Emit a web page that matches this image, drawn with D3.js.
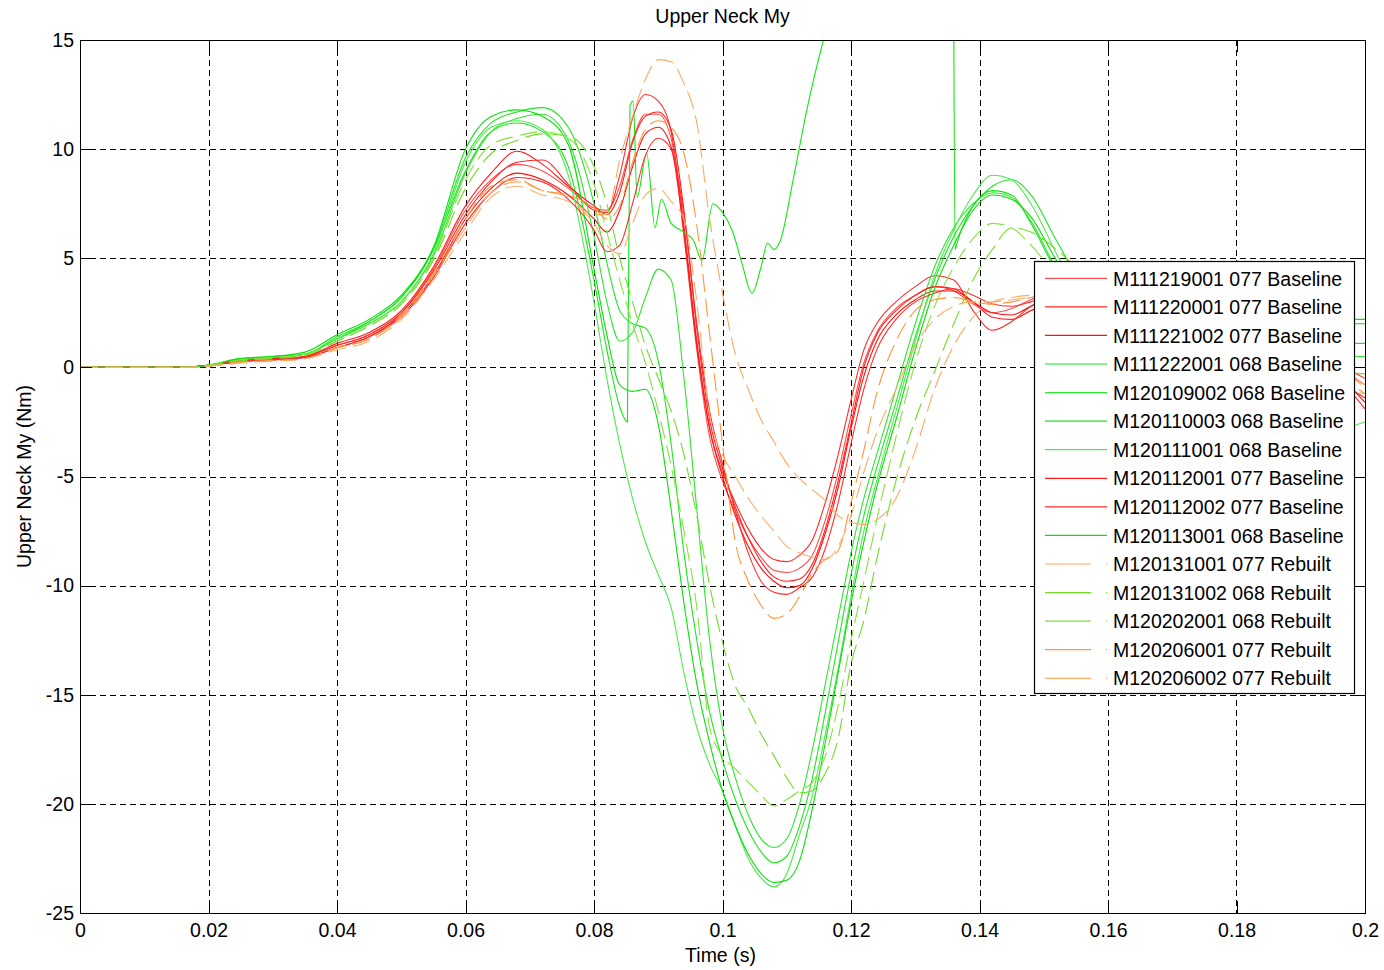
<!DOCTYPE html>
<html><head><meta charset="utf-8">
<script src="https://cdn.jsdelivr.net/npm/d3@7"></script>
<style>
body{margin:0;background:#fff;}
svg{display:block;}
text{font-family:"Liberation Sans",Arial,Helvetica,sans-serif;fill:#000;}
</style>
</head><body>
<svg id="c" width="1384" height="970"></svg>
<script>
// ---------- data ----------
const xTicks = [0, 0.02, 0.04, 0.06, 0.08, 0.1, 0.12, 0.14, 0.16, 0.18, 0.2];
const yTicks = [-25, -20, -15, -10, -5, 0, 5, 10, 15];

const names = [
  "M111219001 077 Baseline", "M111220001 077 Baseline", "M111221002 077 Baseline",
  "M111222001 068 Baseline", "M120109002 068 Baseline", "M120110003 068 Baseline",
  "M120111001 068 Baseline", "M120112001 077 Baseline", "M120112002 077 Baseline",
  "M120113001 068 Baseline", "M120131001 077 Rebuilt", "M120131002 068 Rebuilt",
  "M120202001 068 Rebuilt", "M120206001 077 Rebuilt", "M120206002 077 Rebuilt"
];

// shared time base (s)
const T = [0,0.01,0.016,0.02,0.025,0.03,0.035,0.04,0.045,0.05,0.055,
  0.06,0.064,0.068,0.072,0.076,
  0.08,0.082,0.084,0.086,0.088,0.09,0.092,0.094,
  0.096,0.098,0.1,0.102,0.104,0.106,0.108,0.11,
  0.112,0.114,0.116,0.118,0.12,0.122,0.124,0.127,
  0.13,0.133,0.136,0.139,0.142,0.145,0.148,0.152,
  0.156,0.16,0.165,0.17,0.175,0.18,0.185,0.19,
  0.195,0.2];

// own time base for M111222001 (sharp jumps)
const T_M111222001 = [0,0.01,0.016,0.02,0.025,0.03,0.035,0.04,0.045,0.05,0.055,0.06,0.064,0.068,0.072,0.076,0.08,0.082,0.084,
  0.0852,0.0856,0.0861,0.0867,0.0882,0.0895,0.0905,0.092,0.094,0.0955,0.0968,0.0985,0.1,0.1016,0.103,0.1046,0.106,0.107,0.108,0.109,0.111,0.1132,0.1157,
  0.12,0.125,0.13,0.1358,0.1362,0.1366,0.139,0.142,0.145,0.148,0.152,0.156,0.16,0.165,0.17,0.175,0.18,0.185,0.19,0.195,0.2];

const M111219001 = [0,0,0,0.1,0.3,0.35,0.5,1.0,1.5,2.5,4.5,
  7.2,8.6,9.3,9.0,8.2,
  7.3,7.2,8.3,10.4,11.6,11.6,10.5,6.0,
  0.8,-3.2,-5.2,-6.6,-7.8,-8.7,-9.3,-9.4,
  -9.2,-8.6,-7.0,-4.8,-2.2,0.2,1.6,2.7,
  3.3,3.7,3.5,2.9,2.5,2.7,3.1,3.5,
  3.6,3.4,2.9,2.3,1.8,1.4,1.0,0.6,
  0.1,-0.8];
const M111220001 = [0,0,0,0.1,0.3,0.35,0.5,1.0,1.5,2.5,4.4,
  7.0,8.5,9.4,9.5,8.4,
  7.2,7.1,8.8,11.4,12.5,12.2,10.8,6.5,
  1.2,-2.8,-4.8,-6.2,-7.4,-8.3,-8.8,-8.9,
  -8.6,-7.9,-6.2,-4.0,-1.5,0.8,2.0,3.0,
  3.7,4.2,4.0,2.6,1.7,2.1,2.8,3.3,
  3.4,3.2,2.9,2.4,1.9,1.5,1.1,0.7,
  0.2,-0.5];
const M111221002 = [0,0,0,0.1,0.25,0.35,0.45,0.9,1.4,2.4,4.2,
  6.8,8.2,8.9,8.6,7.9,
  6.8,6.2,7.2,9.2,10.7,11.0,10.1,6.2,
  1.0,-2.8,-5.0,-6.8,-8.2,-9.2,-9.8,-10.1,
  -10.0,-9.2,-7.6,-5.5,-2.8,-0.4,1.2,2.4,
  3.1,3.5,3.5,3.0,2.5,2.4,2.8,3.2,
  3.4,3.2,2.8,2.3,1.8,1.3,0.9,0.5,
  -0.2,-1.6];
const M111222001 = [0,0,0,0.1,0.4,0.45,0.6,1.3,2.1,3.2,5.4,9.0,10.8,11.2,10.8,9.2,4.0,0.8,-1.8,
  -2.5,12.0,12.2,7.8,9.8,6.4,7.7,6.6,6.2,5.8,4.9,7.5,7.1,6.2,4.8,3.4,4.6,5.7,5.4,5.8,8.6,11.9,15.0,
  19,23,25,26,5.4,5.8,7.4,8.1,7.9,6.6,4.4,3.0,2.4,2.2,2.2,2.2,2.2,2.2,2.2,2.2,2.2];
const M120109002 = [0,0,0,0.1,0.35,0.45,0.6,1.3,2.0,3.0,5.1,
  8.9,10.8,11.4,11.6,10.4,
  6.0,3.0,1.2,1.6,3.2,4.5,4.0,-0.5,
  -6.5,-12.5,-16.5,-18.8,-20.5,-21.6,-22.0,-21.6,
  -20.0,-17.5,-14.5,-11.5,-8.5,-6.0,-4.0,-1.0,
  2.0,4.6,6.4,7.5,8.0,7.8,6.7,4.5,
  2.8,1.8,1.2,0.9,0.7,0.6,0.5,0.5,
  0.5,0.5];
const M120110003 = [0,0,0,0.1,0.4,0.5,0.6,1.4,2.1,3.2,5.4,
  9.6,11.2,11.7,11.9,11.0,
  7.5,4.8,2.6,2.0,1.8,0.3,-3.5,-8.5,
  -12.5,-15.8,-18.0,-19.8,-21.2,-22.2,-22.7,-22.4,
  -21.0,-18.8,-15.8,-12.6,-9.5,-6.8,-4.6,-1.6,
  1.4,4.0,6.0,7.4,8.3,8.6,7.9,5.8,
  3.8,2.6,2.0,1.6,1.3,1.1,1.1,1.1,
  1.1,1.1];
const M120111001 = [0,0,0,0.1,0.35,0.45,0.6,1.3,2.0,3.0,5.2,
  9.4,11.0,11.3,10.9,8.8,
  3.0,-0.5,-3.5,-6.0,-8.0,-9.5,-11.0,-14.0,
  -16.5,-18.2,-19.4,-21.0,-22.5,-23.4,-23.8,-23.2,
  -21.4,-19.6,-16.8,-13.8,-10.5,-7.5,-5.2,-2.0,
  1.2,4.2,6.3,7.9,8.8,8.6,7.5,5.2,
  3.0,1.0,-0.8,-1.8,-2.4,-2.7,-2.9,-3.0,
  -2.9,-2.5];
const M120112001 = [0,0,0,0.1,0.3,0.4,0.5,1.1,1.6,2.6,4.6,
  7.4,8.9,9.9,9.3,8.3,
  7.4,7.0,8.0,10.3,11.5,11.7,10.9,7.2,
  1.8,-2.4,-4.6,-6.4,-7.8,-8.9,-9.6,-9.8,
  -9.7,-9.0,-7.4,-5.2,-2.6,0.0,1.5,2.6,
  3.3,3.7,3.6,3.0,2.3,2.2,2.6,3.0,
  3.2,3.0,2.6,2.1,1.7,1.3,0.9,0.4,
  -0.3,-1.9];
const M120112002 = [0,0,0,0.1,0.3,0.35,0.45,0.9,1.4,2.3,4.1,
  6.6,8.0,8.7,8.5,7.7,
  6.3,5.3,5.6,7.5,9.7,10.5,10.0,7.0,
  2.0,-2.0,-4.4,-6.6,-8.5,-9.8,-10.3,-10.4,
  -10.1,-9.6,-8.3,-6.2,-3.5,-1.0,0.8,2.2,
  3.0,3.4,3.6,3.3,2.9,2.8,3.0,3.4,
  3.5,3.3,2.8,2.2,1.7,1.2,0.8,0.3,
  -0.5,-1.4];
const M120113001 = [0,0,0,0.1,0.4,0.5,0.7,1.5,2.2,3.3,5.5,
  10.0,11.5,11.8,11.5,10.2,
  4.5,1.5,-0.8,-1.1,-1.0,-2.6,-6.5,-10.8,
  -14.5,-17.2,-19.4,-21.0,-22.3,-23.2,-23.6,-23.5,
  -22.6,-20.2,-17.2,-14.0,-10.8,-8.0,-5.5,-2.4,
  0.8,3.6,5.6,7.2,7.9,7.7,6.9,4.9,
  3.2,2.5,2.3,2.1,2.0,2.0,2.0,2.0,
  2.0,2.0];
const M120131001 = [0,0,0,0.05,0.25,0.3,0.4,0.9,1.3,2.3,4.2,
  6.4,8.0,8.5,8.1,7.8,
  7.0,7.0,9.5,11.5,13.2,14.1,14.0,13.0,
  11.2,6.8,3.4,0.6,-1.0,-2.4,-3.4,-4.4,
  -5.1,-5.6,-6.1,-6.8,-7.1,-7.2,-7.0,-6.0,
  -3.8,-1.0,1.0,2.3,3.0,3.2,3.3,3.3,
  3.2,3.0,2.6,2.2,1.8,1.4,1.0,0.6,
  0.0,-0.8];
const M120131002 = [0,0,0,0.1,0.3,0.4,0.55,1.2,1.9,2.9,4.9,
  8.2,9.8,10.4,10.7,10.6,
  9.2,7.5,5.0,3.0,1.0,-0.5,-2.0,-4.0,
  -6.8,-10.0,-12.6,-14.6,-15.6,-16.8,-17.8,-18.8,
  -19.5,-19.4,-18.6,-17.0,-13.6,-11.6,-8.8,-5.2,
  -2.4,-0.2,2.0,4.0,5.4,6.4,6.2,5.4,
  4.3,3.2,2.2,1.4,0.8,0.4,0.1,-0.1,
  -0.2,-0.3];
const M120202001 = [0,0,0,0.1,0.35,0.45,0.6,1.2,1.9,2.9,5.0,
  8.6,10.2,10.6,10.8,10.5,
  8.4,6.2,4.0,2.0,0.2,-2.0,-4.5,-7.5,
  -11.0,-16.5,-17.8,-18.4,-19.0,-19.6,-20.1,-19.8,
  -19.4,-19.0,-17.8,-15.5,-12.5,-9.8,-7.0,-3.2,
  0.2,2.8,4.6,5.9,6.6,6.4,5.6,4.2,
  3.0,2.0,1.2,0.6,0.2,-0.2,-0.5,-0.8,
  -1.0,-1.2];
const M120206001 = [0,0,0,0.05,0.25,0.3,0.4,0.9,1.3,2.4,4.3,
  6.8,8.3,8.6,8.1,7.9,
  7.3,6.8,7.4,9.4,10.9,11.3,11.0,9.8,
  6.5,1.5,-3.5,-8.0,-9.8,-10.9,-11.5,-11.3,
  -10.5,-9.4,-8.8,-8.4,-6.2,-3.8,-1.2,1.2,
  2.6,3.1,3.2,3.0,2.9,3.0,3.2,3.4,
  3.4,3.2,2.8,2.3,1.8,1.3,0.9,0.4,
  -0.3,-1.2];
const M120206002 = [0,0,0,0.05,0.2,0.3,0.4,0.8,1.2,2.2,4.0,
  6.2,7.8,8.3,7.9,7.6,
  6.6,5.6,5.2,6.6,7.9,8.2,7.6,6.8,
  3.0,-2.2,-4.0,-5.0,-6.0,-6.8,-7.5,-8.2,
  -8.5,-8.7,-8.8,-8.2,-6.8,-4.8,-3.0,-1.0,
  1.0,2.2,2.8,3.0,3.0,3.1,3.2,3.3,
  3.2,3.0,2.6,2.2,1.8,1.4,1.0,0.6,
  0.0,-0.9];

const seriesValues = [M111219001, M111220001, M111221002, M111222001, M120109002, M120110003,
  M120111001, M120112001, M120112002, M120113001, M120131001, M120131002,
  M120202001, M120206001, M120206002];
const seriesTimes = [T, T, T, T_M111222001, T, T, T, T, T, T, T, T, T, T, T];

// ---------- styles ----------
const colors = ["#ff4c4c","#ff2a2a","#ff1010","#14e614","#2ee62e","#1ee81e","#4cea4c",
  "#ff1c1c","#ff2e2e","#08e008","#ffa862","#72dc2a","#86e23e","#ff9638","#ffac6a"];
const dashed = names.map(n => n.indexOf("Rebuilt") >= 0);

// ---------- chart ----------
const svg = d3.select("#c");
svg.append("rect").attr("width",1384).attr("height",970).attr("fill","#fff");
const X0 = 80, X1 = 1365, Y0 = 40, Y1 = 913;
const x = d3.scaleLinear().domain([0, 0.2]).range([X0, X1]);
const y = d3.scaleLinear().domain([-25, 15]).range([Y1, Y0]);
const FS = "19.5px";

// grid
const grid = svg.append("g").attr("stroke","#000").attr("stroke-width",1)
  .attr("stroke-dasharray","6,4").attr("shape-rendering","crispEdges");
xTicks.slice(1,-1).forEach(t => grid.append("line")
  .attr("x1", Math.round(x(t))+0.5).attr("x2", Math.round(x(t))+0.5)
  .attr("y1", Y0).attr("y2", Y1));
yTicks.slice(1,-1).forEach(v => grid.append("line")
  .attr("y1", Math.round(y(v))+0.5).attr("y2", Math.round(y(v))+0.5)
  .attr("x1", X0).attr("x2", X1));

// lines
svg.append("clipPath").attr("id","clip").append("rect")
  .attr("x",X0).attr("y",Y0).attr("width",X1-X0).attr("height",Y1-Y0);
const lineGen = d3.line().x(d => x(d[0])).y(d => y(d[1])).curveMonotoneX;
const lg = svg.append("g").attr("clip-path","url(#clip)");
const gen = d3.line().x(d => x(d[0])).y(d => y(d[1])).curve(d3.curveMonotoneX);
seriesValues.forEach((vals, i) => {
  const pts = vals.map((v, k) => [seriesTimes[i][k], v]);
  lg.append("path").attr("d", gen(pts)).attr("fill","none")
    .attr("stroke", colors[i]).attr("stroke-width", 1.1)
    .attr("stroke-dasharray", dashed[i] ? "18,7" : null);
});

// axes
function styleAxis(g){
  g.attr("font-family",null).attr("font-size",null);
  g.selectAll("text").style("font-size",FS).attr("fill","#000");
  g.selectAll("line,path").attr("stroke","#000").attr("shape-rendering","crispEdges");
}
svg.append("g").attr("transform",`translate(0,${Y1})`)
  .call(d3.axisBottom(x).tickValues(xTicks).tickSizeInner(-12).tickSizeOuter(0)
    .tickPadding(10).tickFormat(d => String(d))).call(styleAxis);
svg.append("g").attr("transform",`translate(0,${Y0})`)
  .call(d3.axisTop(x).tickValues(xTicks).tickSizeInner(-12).tickSizeOuter(0).tickFormat(() => ""))
  .call(styleAxis);
svg.append("g").attr("transform",`translate(${X0},0)`)
  .call(d3.axisLeft(y).tickValues(yTicks).tickSizeInner(-12).tickSizeOuter(0)
    .tickPadding(6).tickFormat(d => String(d))).call(styleAxis);
svg.append("g").attr("transform",`translate(${X1},0)`)
  .call(d3.axisRight(y).tickValues(yTicks).tickSizeInner(-12).tickSizeOuter(0).tickFormat(() => ""))
  .call(styleAxis);
svg.append("rect").attr("x",X0+0.5).attr("y",Y0+0.5).attr("width",X1-X0).attr("height",Y1-Y0)
  .attr("fill","none").attr("stroke","#000").attr("shape-rendering","crispEdges");

// titles
svg.append("text").attr("x",(X0+X1)/2).attr("y",23).attr("text-anchor","middle")
  .style("font-size",FS).text("Upper Neck My");
svg.append("text").attr("x",(X0+X1)/2 - 2).attr("y",962).attr("text-anchor","middle")
  .style("font-size",FS).text("Time (s)");
svg.append("text").attr("transform",`translate(31,${(Y0+Y1)/2}) rotate(-90)`)
  .attr("text-anchor","middle").style("font-size",FS).text("Upper Neck My (Nm)");

// legend
const leg = svg.append("g");
leg.append("rect").attr("x",1034.5).attr("y",261.5).attr("width",320).attr("height",432)
  .attr("fill","#fff").attr("stroke","#000").attr("stroke-width",1.2);
names.forEach((n, i) => {
  const ry = 278.3 + i * 28.57;
  leg.append("line").attr("x1",1045).attr("x2",1107).attr("y1",ry).attr("y2",ry)
    .attr("stroke",colors[i]).attr("stroke-width",1.2)
    .attr("stroke-dasharray", dashed[i] ? "46,15,1,30" : null);
  leg.append("text").attr("x",1113).attr("y",ry+7.2).style("font-size",FS).text(n);
});
</script>
</body></html>
